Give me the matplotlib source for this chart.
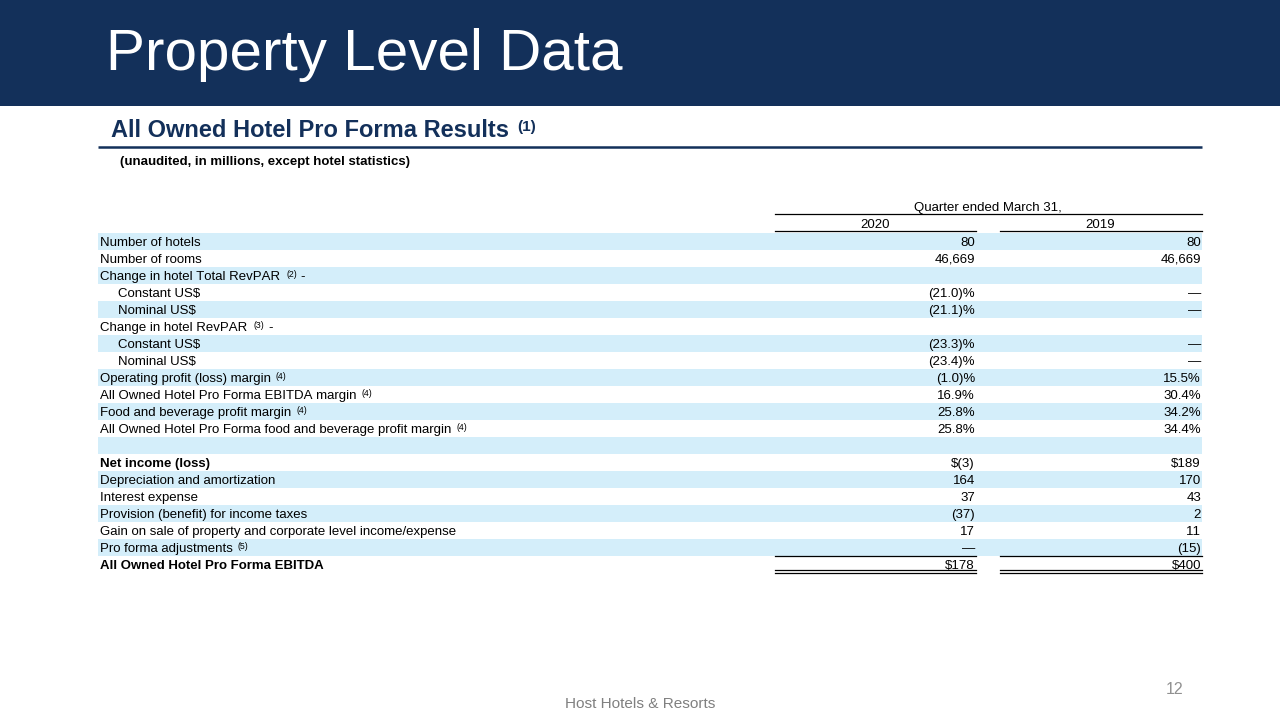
import matplotlib
matplotlib.use("Agg")
import matplotlib.pyplot as plt

plt.rcParams['font.family'] = ['Liberation Sans', 'DejaVu Sans']
plt.rcParams['text.kerning_factor'] = 6

# ----------------------------------
# Data
# ----------------------------------
title = "Property Level Data"
subtitle = "All Owned Hotel Pro Forma Results"
note = "(unaudited, in millions, except hotel statistics)"
period_header = "Quarter ended March 31,"
years = ["2020", "2019"]

row_labels = [
    "Number of hotels", "Number of rooms", "Change in hotel Total RevPAR",
    "Constant US$", "Nominal US$", "Change in hotel RevPAR",
    "Constant US$", "Nominal US$", "Operating profit (loss) margin",
    "All Owned Hotel Pro Forma EBITDA margin", "Food and beverage profit margin",
    "All Owned Hotel Pro Forma food and beverage profit margin", "",
    "Net income (loss)", "Depreciation and amortization", "Interest expense",
    "Provision (benefit) for income taxes",
    "Gain on sale of property and corporate level income/expense",
    "Pro forma adjustments", "All Owned Hotel Pro Forma EBITDA",
]
row_notes = ["", "", "(2) -", "", "", "(3) -", "", "", "(4)", "(4)", "(4)", "(4)", "",
             "", "", "", "", "", "(5)", ""]
row_indent = [0, 0, 0, 1, 1, 0, 1, 1, 0, 0, 0, 0, 0, 0, 0, 0, 0, 0, 0, 0]
row_bold = [False] * 13 + [True] + [False] * 5 + [True]
values_2020 = ["80", "46,669", "", "(21.0)%", "(21.1)%", "", "(23.3)%", "(23.4)%",
               "(1.0)%", "16.9%", "25.8%", "25.8%", "", "$(3)", "164", "37", "(37)",
               "17", "\u2014", "$178"]
values_2019 = ["80", "46,669", "", "\u2014", "\u2014", "", "\u2014", "\u2014",
               "15.5%", "30.4%", "34.2%", "34.4%", "", "$189", "170", "43", "2",
               "11", "(15)", "$400"]

# ----------------------------------
# Figure in pixel coordinates
# ----------------------------------
NAVY = "#13305a"
STRIPE = "#d4eefa"
FS = 9.5

fig = plt.figure(figsize=(12.8, 7.2), dpi=100)
ax = fig.add_axes([0, 0, 1, 1])
ax.set_xlim(0, 1280)
ax.set_ylim(720, 0)
ax.axis("off")
renderer = fig.canvas.get_renderer()

# header band
ax.add_patch(plt.Rectangle((0, 0), 1280, 106, color=NAVY, lw=0))
ax.text(106, 70, title, color="white", fontsize=42, va="baseline", ha="left")

# subtitle with footnote marker
sub = ax.text(111, 137, subtitle, color=NAVY, fontsize=17, fontweight="bold",
              va="baseline", ha="left")
bb = sub.get_window_extent(renderer=renderer)
ax.text(bb.x1 + 8, 131, "(1)", color=NAVY, fontsize=11, fontweight="bold",
        va="baseline", ha="left")
ax.plot([98, 1202], [146.5, 146.5], color=NAVY, lw=1.8, solid_capstyle="butt")
ax.text(120, 165, note, fontsize=9.5, fontweight="bold", va="baseline", ha="left")

# column headers
col_right = [975, 1201]
col_left = [775, 1000]
ax.text(988, 211, period_header, fontsize=FS, va="baseline", ha="center")
ax.plot([775, 1202], [214, 214], color="black", lw=0.9)
for i, yr in enumerate(years):
    ax.text((col_left[i] + col_right[i]) / 2, 228, yr, fontsize=FS, va="baseline", ha="center")
    ax.plot([col_left[i], col_right[i] + 1], [231, 231], color="black", lw=0.9)

# rows
y0 = 241
dy = 17
for i, label in enumerate(row_labels):
    y = y0 + i * dy
    if i % 2 == 0:
        ax.add_patch(plt.Rectangle((98, y - dy / 2), 1104, dy, color=STRIPE, lw=0))
    x = 100 + 18 * row_indent[i]
    w = "bold" if row_bold[i] else "normal"
    ty = y + 5
    if label:
        t = ax.text(x, ty, label, fontsize=FS, fontweight=w, va="baseline", ha="left")
        if row_notes[i]:
            bb = t.get_window_extent(renderer=renderer)
            sup = row_notes[i]
            if sup.endswith(" -"):
                st = ax.text(bb.x1 + 6, ty - 3, sup[:-2], fontsize=6.3, va="baseline", ha="left")
                bb2 = st.get_window_extent(renderer=renderer)
                ax.text(bb2.x1 + 4, ty, "-", fontsize=FS, va="baseline", ha="left")
            else:
                ax.text(bb.x1 + 5, ty - 3, sup, fontsize=6.3, va="baseline", ha="left")
    ax.text(col_right[0], ty, values_2020[i], fontsize=FS, va="baseline", ha="right")
    ax.text(col_right[1], ty, values_2019[i], fontsize=FS, va="baseline", ha="right")

# total rules
for i in range(2):
    ax.plot([col_left[i], col_right[i] + 1], [555.5, 555.5], color="black", lw=0.9)
    ax.plot([col_left[i], col_right[i] + 1], [570, 570], color="black", lw=0.9)
    ax.plot([col_left[i], col_right[i] + 1], [572.5, 572.5], color="black", lw=0.9)

# footer
ax.text(640, 708, "Host Hotels & Resorts", color="#808080", fontsize=11.1,
        va="baseline", ha="center")
ax.text(1175, 694, "12", color="#909090", fontsize=11.5, va="baseline", ha="center")

fig.savefig("out.png", dpi=100)
